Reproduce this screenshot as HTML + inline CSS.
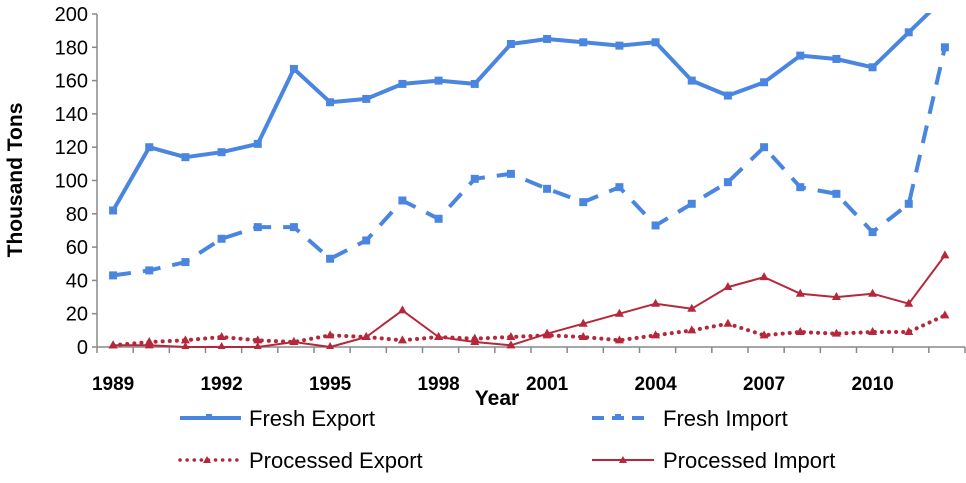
<!DOCTYPE html>
<html><head><meta charset="utf-8"><style>
html,body{margin:0;padding:0;background:#fff;}
svg{display:block;font-family:"Liberation Sans",sans-serif;}
</style></head><body>
<svg id="chart" width="966" height="483" viewBox="0 0 966 483">
<defs><clipPath id="plotclip"><rect x="97" y="13" width="869" height="336"/></clipPath></defs>
<g id="axes"></g>
<g id="series" clip-path="url(#plotclip)"></g>
<text x="22" y="180" transform="rotate(-90 22 180)" text-anchor="middle" font-size="21" font-weight="bold">Thousand Tons</text>
<text x="497" y="405" text-anchor="middle" font-size="21" font-weight="bold">Year</text>
<g>
 <g>
  <line x1="180" y1="418" x2="241" y2="418" stroke="#4a86e0" stroke-width="4"/>
  <rect x="206" y="414" width="6" height="6" fill="#4a86e0"/>
  <text x="249" y="426" font-size="22">Fresh Export</text></g>
 <g>
  <line x1="592" y1="418" x2="644" y2="418" stroke="#4a86e0" stroke-width="4" stroke-dasharray="12,8"/>
  <rect x="615" y="414" width="6" height="6" fill="#4a86e0"/>
  <text x="663" y="426" font-size="22">Fresh Import</text></g>
 <g>
  <line x1="180" y1="460" x2="241" y2="460" stroke="#b5283c" stroke-width="3.5" stroke-dasharray="0.1,7" stroke-linecap="round"/>
  <polygon points="207,456 211,463 203,463" fill="#b5283c"/>
  <text x="249" y="468" font-size="22">Processed Export</text></g>
 <g>
  <line x1="592" y1="460" x2="654" y2="460" stroke="#b5283c" stroke-width="2"/>
  <polygon points="623,456 627,463 619,463" fill="#b5283c"/>
  <text x="663" y="468" font-size="22">Processed Import</text></g>
</g>
</svg>
<script>
const years = [1989,1990,1991,1992,1993,1994,1995,1996,1997,1998,1999,2000,2001,2002,2003,2004,2005,2006,2007,2008,2009,2010,2011,2012];
const freshExport = [82,120,114,117,122,167,147,149,158,160,158,182,185,183,181,183,160,151,159,175,173,168,189,210];
const freshImport = [43,46,51,65,72,72,53,64,88,77,101,104,95,87,96,73,86,99,120,96,92,69,86,180];
const processedExport = [1,3,4,6,4,3,7,6,4,6,5,6,7,6,4,7,10,14,7,9,8,9,9,19];
const processedImport = [1,1,0,0,0,3,0,6,22,6,3,1,8,14,20,26,23,36,42,32,30,32,26,55];
const yTicks = [0,20,40,60,80,100,120,140,160,180,200];
const xLabelYears = [1989,1992,1995,1998,2001,2004,2007,2010];

const NS="http://www.w3.org/2000/svg";
const X0=97,X1=965,Y0=347,Y1=14,YMAX=200;
const band=(X1-X0)/years.length;
function xPos(i){return X0+band*(i+0.5)-2;}
function yPos(v){return Y0-(v/YMAX)*(Y0-Y1);}
function mk(tag,attrs,parent){const e=document.createElementNS(NS,tag);for(const k in attrs)e.setAttribute(k,attrs[k]);parent.appendChild(e);return e;}
const axes=document.getElementById('axes'), ser=document.getElementById('series');

const ya=mk('line',{x1:X0,y1:Y0,x2:X0,y2:Y1,stroke:'#888','stroke-width':1.5},axes);


const xa=mk('line',{x1:X0,y1:Y0,x2:X1,y2:Y0,stroke:'#888','stroke-width':1.5},axes);


yTicks.forEach(v=>{
 const y=yPos(v);
 mk('line',{x1:X0-5,y1:y,x2:X0,y2:y,stroke:'#888','stroke-width':1.5},axes);
 const t=mk('text',{x:X0-9,y:y+7,'text-anchor':'end','font-size':20},axes);
 t.textContent=v;
 
 
});
for(let i=0;i<=years.length;i++){
 const x=X0+band*i;
 mk('line',{x1:x,y1:Y0,x2:x,y2:Y0+6,stroke:'#888','stroke-width':1.5},axes);
}
years.forEach((yr,i)=>{
 if(xLabelYears.indexOf(yr)<0)return;
 const t=mk('text',{x:xPos(i),y:390,'text-anchor':'middle','font-size':19,'font-weight':'bold'},axes);
 t.textContent=yr;
 
 
});

function drawSeries(vals,name,color,width,dash,marker){
 const g=mk('g',{},ser);
 
 
 const pts=vals.map((v,i)=>xPos(i).toFixed(1)+','+yPos(v).toFixed(1)).join(' ');
 const attrs={points:pts,fill:'none',stroke:color,'stroke-width':width,'stroke-linejoin':'round'};
 if(dash)attrs['stroke-dasharray']=dash;
 if(dash==='0.1,7')attrs['stroke-linecap']='round';
 mk('polyline',attrs,g);
 vals.forEach((v,i)=>{
  const x=xPos(i),y=yPos(v);
  let m;
  if(marker==='square')m=mk('rect',{x:x-4,y:y-4,width:8,height:8,fill:color},g);
  else m=mk('polygon',{points:`${x},${y-5} ${x+4.5},${y+3} ${x-4.5},${y+3}`,fill:color},g);
  
  
 });
}
drawSeries(freshExport,'fresh-export-line','#4a86e0',4,null,'square');
drawSeries(freshImport,'fresh-import-line','#4a86e0',4,'18,12','square');
drawSeries(processedExport,'processed-export-line','#b5283c',4,'0.1,7','tri');
drawSeries(processedImport,'processed-import-line','#b5283c',2,null,'tri');
</script>
</body></html>
